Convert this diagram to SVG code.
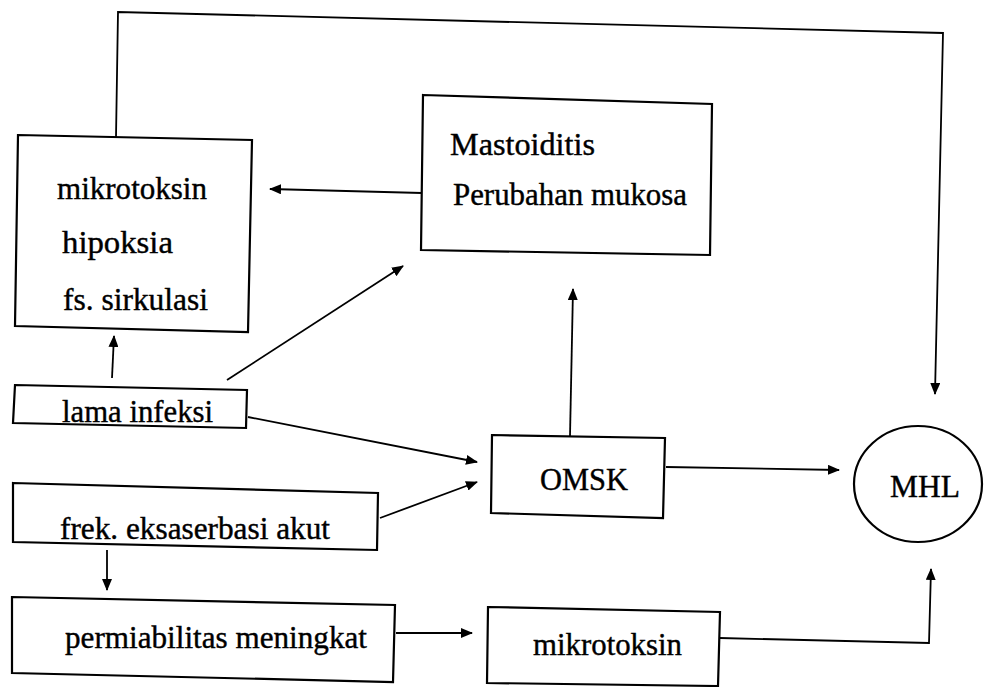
<svg xmlns="http://www.w3.org/2000/svg" width="984" height="687" viewBox="0 0 984 687">
<defs>
<marker id="ah" markerUnits="userSpaceOnUse" markerWidth="12" markerHeight="10" refX="11" refY="5" orient="auto">
<path d="M0,0 L12,5 L0,10 z" fill="#000"/>
</marker>
<style>
.box{fill:#fff;stroke:#000;stroke-width:2.2}
.t{font-family:'Liberation Serif','DejaVu Serif','Times New Roman',serif;font-size:31px;fill:#000;stroke:#000;stroke-width:0.4}
.c{fill:none;stroke:#000;stroke-width:1.8;marker-end:url(#ah)}
</style>
</defs>
<rect width="984" height="687" fill="#fff"/>
<g id="connectors">
<polyline class="c" points="116,137 118,12 943,33 935,394"/>
<line class="c" x1="422" y1="193" x2="270" y2="189"/>
<line class="c" x1="112" y1="378" x2="114" y2="336"/>
<line class="c" x1="227" y1="380" x2="403" y2="266"/>
<line class="c" x1="248" y1="417" x2="477" y2="462"/>
<line class="c" x1="380" y1="518" x2="477" y2="482"/>
<line class="c" x1="570" y1="436" x2="573" y2="289"/>
<line class="c" x1="666" y1="467" x2="839" y2="470"/>
<line class="c" x1="107" y1="550" x2="107" y2="590"/>
<line class="c" x1="396" y1="633" x2="472" y2="633"/>
<polyline class="c" points="720,638 929,643 931,569"/>
</g>
<g id="node-box1">
<polygon class="box" points="18,135 252,140 248,332 15,326"/>
<text class="t" font-family="Liberation Serif, DejaVu Serif, serif" x="57" y="199" textLength="150" lengthAdjust="spacingAndGlyphs">mikrotoksin</text>
<text class="t" font-family="Liberation Serif, DejaVu Serif, serif" x="62" y="253" textLength="111" lengthAdjust="spacingAndGlyphs">hipoksia</text>
<text class="t" font-family="Liberation Serif, DejaVu Serif, serif" x="63" y="310" textLength="145" lengthAdjust="spacingAndGlyphs">fs. sirkulasi</text>
</g>
<g id="node-mastoiditis">
<polygon class="box" points="423,95 712,104 710,255 421,250"/>
<text class="t" font-family="Liberation Serif, DejaVu Serif, serif" x="450" y="155" textLength="145" lengthAdjust="spacingAndGlyphs">Mastoiditis</text>
<text class="t" font-family="Liberation Serif, DejaVu Serif, serif" x="453" y="205" textLength="234" lengthAdjust="spacingAndGlyphs">Perubahan mukosa</text>
</g>
<g id="node-lama">
<polygon class="box" points="15,385 247,390 246,428 13,423"/>
<text class="t" font-family="Liberation Serif, DejaVu Serif, serif" x="62" y="422" textLength="151" lengthAdjust="spacingAndGlyphs">lama infeksi</text>
</g>
<g id="node-frek">
<polygon class="box" points="13,483 378,493 377,550 13,542"/>
<text class="t" font-family="Liberation Serif, DejaVu Serif, serif" x="60" y="539" textLength="270" lengthAdjust="spacingAndGlyphs">frek. eksaserbasi akut</text>
</g>
<g id="node-permiabilitas">
<polygon class="box" points="12,597 395,605 393,682 12,673"/>
<text class="t" font-family="Liberation Serif, DejaVu Serif, serif" x="65" y="648" textLength="302" lengthAdjust="spacingAndGlyphs">permiabilitas meningkat</text>
</g>
<g id="node-omsk">
<polygon class="box" points="492,435 665,438 663,518 491,513"/>
<text class="t" font-family="Liberation Serif, DejaVu Serif, serif" x="540" y="490" textLength="88" lengthAdjust="spacingAndGlyphs">OMSK</text>
</g>
<g id="node-mikrotoksin2">
<polygon class="box" points="488,607 720,612 718,686 487,683"/>
<text class="t" font-family="Liberation Serif, DejaVu Serif, serif" x="533" y="655" textLength="149" lengthAdjust="spacingAndGlyphs">mikrotoksin</text>
</g>
<g id="node-mhl">
<ellipse class="box" cx="918" cy="484" rx="64" ry="58"/>
<text class="t" font-family="Liberation Serif, DejaVu Serif, serif" x="890" y="497" textLength="70" lengthAdjust="spacingAndGlyphs">MHL</text>
</g>
</svg>
